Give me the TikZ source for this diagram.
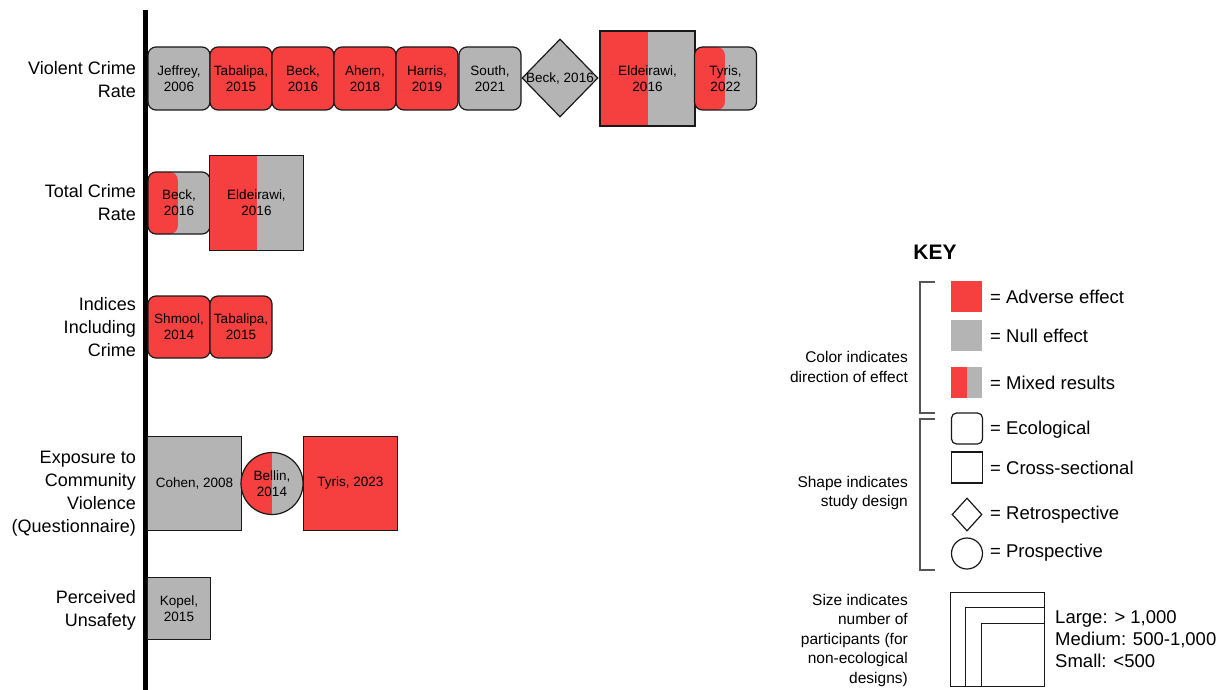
\documentclass[tikz,border=0pt]{standalone}
\usepackage{fontspec}
\setmainfont{Liberation Sans}
\usetikzlibrary{shapes.geometric,calc}
\definecolor{adv}{RGB}{246,64,64}
\definecolor{nul}{RGB}{180,180,180}
\definecolor{edge}{RGB}{25,25,25}
\definecolor{brk}{RGB}{85,85,85}
\begin{document}
\begin{tikzpicture}[x=1pt,y=-1pt,
  lbl/.style={font=\fontsize{13.5}{16}\selectfont, align=center, text=black},
  base/.style={lbl, draw=edge, line width=1.2pt, inner sep=0pt},
  eco/.style={base, rectangle, rounded corners=8pt, minimum width=62pt, minimum height=63pt},
  sq/.style={base, rectangle, minimum width=#1, minimum height=#1},
  dia/.style={base, diamond, minimum width=76pt, minimum height=78pt},
  circ/.style={base, circle, minimum size=62pt},
  A/.style={fill=adv},
  N/.style={fill=nul},
  M/.style={fill=nul, path picture={\fill[adv] (path picture bounding box.north west) rectangle ($(path picture bounding box.south west)!#1!(path picture bounding box.south east)$);}},
  rowlbl/.style={font=\fontsize{18}{23}\selectfont, align=right, anchor=east, inner sep=0pt},
  keytxt/.style={font=\fontsize{18.5}{22}\selectfont, align=left, anchor=west, inner sep=0pt},
  keydesc/.style={font=\fontsize{15.5}{19.5}\selectfont, align=right, anchor=east, inner sep=0pt},
  keyshape/.style={draw=edge, line width=1.2pt, inner sep=0pt},
  bracket/.style={draw=brk, line width=1.4pt},
  axis/.style={line width=5pt, black}
]
\useasboundingbox (0,0) rectangle (1225,690);

% axis
\coordinate (axtop) at (145.5,10);
\coordinate (axbot) at (145.5,690);
\draw[axis] (axtop) -- (axbot);

% row labels
\node[rowlbl] (r1) at (136,80) {Violent Crime\\Rate};
\node[rowlbl] (r2) at (136,203) {Total Crime\\Rate};
\node[rowlbl] (r3) at (136,327) {Indices\\Including\\Crime};
\node[rowlbl] (r4) at (136,494) {Exposure to\\Community\\Violence\\(Questionnaire)};
\node[rowlbl] (r5) at (136,610) {Perceived\\Unsafety};

% row 1
\node[eco,N] (jef) at (179,78.5) {Jeffrey,\\2006};
\node[eco,A] (tab1) at (241,78.5) {Tabalipa,\\2015};
\node[eco,A] (beck1) at (303,78.5) {Beck,\\2016};
\node[eco,A] (ahe) at (365,78.5) {Ahern,\\2018};
\node[eco,A] (har) at (427,78.5) {Harris,\\2019};
\node[eco,N] (sou) at (490,78.5) {South,\\2021};
\node[dia,N] (beckd) at (560,78) {};
\node[lbl] (beckdt) at (beckd.center) {Beck, 2016};
\node[sq=95pt,M=0.5] (eld1) at (647.5,78.5) {Eldeirawi,\\2016};
\node[eco,M=0.49] (tyr1) at (725.5,78.5) {Tyris,\\2022};

% row 2
\node[eco,M=0.48,minimum height=62pt] (beck2) at (179,203) {Beck,\\2016};
\node[sq=94.5pt,M=0.5] (eld2) at (256.5,203) {Eldeirawi,\\2016};

% row 3
\node[eco,A,minimum height=62pt] (shm) at (179,327) {Shmool,\\2014};
\node[eco,A,minimum height=62pt] (tab3) at (241,327) {Tabalipa,\\2015};

% row 4
\node[sq=93.5pt,N] (coh) at (194.5,483.5) {Cohen, 2008};
\node[circ,M=0.5] (bel) at (272,483.5) {Bellin,\\2014};
\node[sq=94pt,A] (tyr2) at (350.5,483.5) {Tyris, 2023};

% row 5
\node[sq=62.5pt,N] (kop) at (179,608.5) {Kopel,\\2015};

% KEY
\node[font=\fontsize{21}{24}\selectfont\bfseries, inner sep=0pt] (key) at (935,252) {KEY};

\draw[bracket] (935,282) -- (920,282) -- (920,413) -- (935,413);
\draw[bracket] (935,419) -- (920,419) -- (920,570) -- (935,570);

\node[fill=adv, minimum size=31pt, inner sep=0pt] (kadv) at (966.5,296.5) {};
\node[fill=nul, minimum size=31pt, inner sep=0pt] (knul) at (966.5,335.5) {};
\node[M=0.5, minimum size=31pt, inner sep=0pt] (kmix) at (966.5,382.5) {};
\node[keytxt] (tadv) at (990,297) {= Adverse effect};
\node[keytxt] (tnul) at (990,336) {= Null effect};
\node[keytxt] (tmix) at (990,383) {= Mixed results};
\node[keydesc] (dcol) at (908,367) {Color indicates\\direction of effect};

\node[keyshape, rounded corners=5pt, minimum size=31pt] (keco) at (967,428.5) {};
\node[keyshape, minimum size=31pt] (kcro) at (967,467.5) {};
\node[keyshape, diamond, minimum width=30pt, minimum height=33pt] (kret) at (967,514.5) {};
\node[keyshape, circle, minimum size=31pt] (kpro) at (967,553.5) {};
\node[keytxt] (teco) at (990,430) {= Ecological};
\node[keytxt] (tcro) at (990,468) {= Cross-sectional};
\node[keytxt] (tret) at (990,515) {= Retrospective};
\node[keytxt] (tpro) at (990,553) {= Prospective};
\node[keydesc] (dsha) at (908,493) {Shape indicates\\study design};

\coordinate (sizecorner) at (1045,687);
\node[keyshape, anchor=south east, minimum width=94pt, minimum height=94pt] (klar) at (sizecorner) {};
\node[keyshape, anchor=south east, minimum width=79pt, minimum height=79pt] (kmed) at (sizecorner) {};
\node[keyshape, anchor=south east, minimum width=63pt, minimum height=63pt] (ksma) at (sizecorner) {};
\node[keytxt] (tsize) at (1055,639) {Large: > 1,000\\Medium: 500-1,000\\Small: <500};
\node[keydesc] (dsiz) at (908,640) {Size indicates\\number of\\participants (for\\non-ecological\\designs)};
\end{tikzpicture}
\end{document}
